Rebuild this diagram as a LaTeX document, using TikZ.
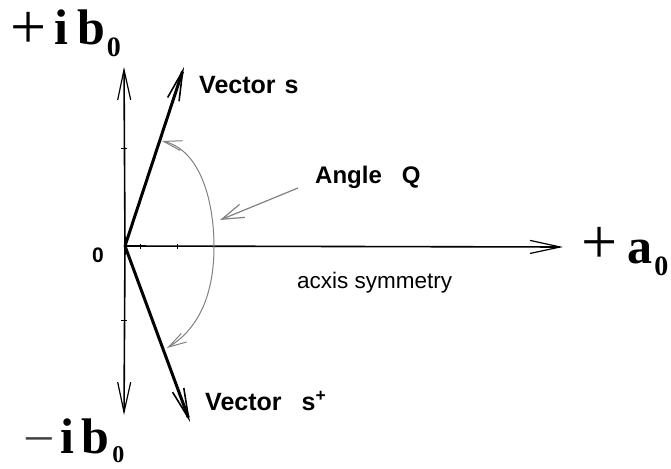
\documentclass[tikz,border=0pt]{standalone}
\usepackage{fontspec}
\setmainfont{Liberation Serif}
\setsansfont{Liberation Sans}
\usetikzlibrary{arrows.meta}
\definecolor{arcGray}{HTML}{808080}

\begin{document}
\begin{tikzpicture}[x=1pt,y=-1pt,
    axisline/.style={line width=1.6pt, -{Straight Barb[length=30pt,width=13pt,line width=1.2pt]}},
    vecline/.style={line width=3pt, -{Straight Barb[length=30pt,width=12pt,line width=1.6pt]}},
    anglearc/.style={arcGray, line width=1pt, {Straight Barb[length=18pt,width=10pt,line width=1pt]}-{Straight Barb[length=18pt,width=10pt,line width=1pt]}},
    pointer/.style={arcGray, line width=1.2pt, -{Straight Barb[length=22pt,width=14pt,line width=1.2pt]}},
    sflabel/.style={font=\sffamily\bfseries\fontsize{25}{25}\selectfont, inner sep=0pt, anchor=west},
    biglabel/.style={font=\bfseries\fontsize{50}{50}\selectfont, inner sep=0pt, anchor=base west}]
    \useasboundingbox (0,0) rectangle (671,468);
    \coordinate (O) at (125,246);
    \coordinate (ytop) at (124,67);
    \coordinate (ybot) at (124,415);
    \coordinate (xend) at (563,247);
    \coordinate (stip) at (184,67);
    \coordinate (sstip) at (190,422);
    \coordinate (arcTop) at (162,141);
    \coordinate (arcMid) at (214,247);
    \coordinate (arcBot) at (167,348);
    \coordinate (ptrTip) at (220,220);
    \draw[axisline] (O) -- (ytop);
    \draw[axisline] (O) -- (ybot);
    \draw[axisline] (O) -- (xend);
    \foreach \ty in {148,320} \draw[line width=1pt] (121,\ty) -- (127,\ty);
    \foreach \tx in {140,177} \draw[line width=1pt] (\tx,244) -- (\tx,249);
    \draw[vecline] (O) -- (stip);
    \draw[vecline] (O) -- (sstip);
    \draw[anglearc] (arcTop) .. controls (200,150) and (214,200) .. (arcMid)
        .. controls (214,292) and (200,328) .. (arcBot);
    \node[sflabel] (vecS) at (199,85) {Vector\hspace{9pt}s};
    \node[sflabel] (vecSstar) at (205,401) {Vector\hspace{20pt}s\textsuperscript{+}};
    \node[sflabel, font=\sffamily\bfseries\fontsize{24}{24}\selectfont] (angleQ) at (315,177) {Angle\hspace{20pt}Q};
    \node[sflabel, font=\sffamily\fontsize{22.5}{22.5}\selectfont] (symLabel) at (297,283) {acxis symmetry};
    \node[sflabel, font=\sffamily\bfseries\fontsize{21}{21}\selectfont] (zero) at (92,255) {0};
    \draw[pointer] (angleQ.west) ++(-17,11) coordinate (ptrStart) -- (ptrTip);
    \node[biglabel] (ibPlus) at (10,45) {\raisebox{-4pt}{\mdseries\fontsize{64}{64}\selectfont+}\hspace{8pt}i\hspace{9pt}b\hspace{2pt}\raisebox{-12pt}{\fontsize{28}{28}\selectfont 0}};
    \node[biglabel] (ibMinus) at (23,453) {\raisebox{-2pt}{\mdseries\fontsize{50}{50}\selectfont\color{black!75}\scalebox{1.12}[1]{\symbol{"2212}}}\hspace{6pt}i\hspace{7pt}b\hspace{3pt}\raisebox{-9pt}{\fontsize{24}{24}\selectfont 0}};
    \node[biglabel] (aPlus) at (581,263) {{\mdseries\fontsize{64}{64}\selectfont+}\hspace{10pt}a\hspace{2pt}\raisebox{-12pt}{\fontsize{28}{28}\selectfont 0}};
\end{tikzpicture}
\end{document}
